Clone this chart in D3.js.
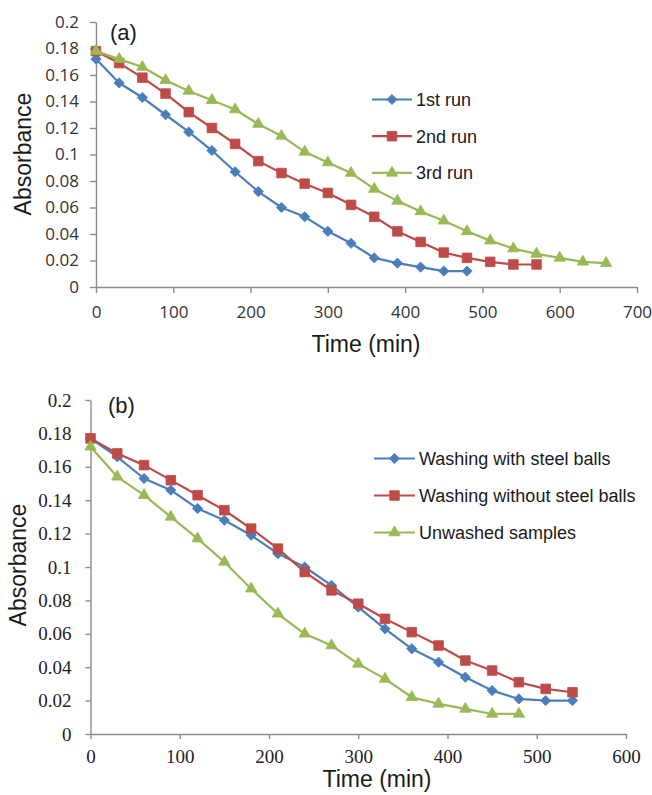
<!DOCTYPE html>
<html>
<head>
<meta charset="utf-8">
<script src="https://cdn.jsdelivr.net/npm/d3@7"></script>
<style>
  body { margin: 0; background: #fff; }
  svg { display: block; }
</style>
</head>
<body>
<svg id="chart" width="652" height="795"></svg>
<script>
// ---- Panel (a): repeated photocatalytic runs ----
const timeRun1 = [0, 30, 60, 90, 120, 150, 180, 210, 240, 270, 300, 330, 360, 390, 420, 450, 480];
const run1 = [0.172, 0.154, 0.143, 0.130, 0.117, 0.103, 0.087, 0.072, 0.060, 0.053, 0.042, 0.033, 0.022, 0.018, 0.015, 0.012, 0.012];

const timeRun2 = [0, 30, 60, 90, 120, 150, 180, 210, 240, 270, 300, 330, 360, 390, 420, 450, 480, 510, 540, 570];
const run2 = [0.178, 0.169, 0.158, 0.146, 0.132, 0.120, 0.108, 0.095, 0.086, 0.078, 0.071, 0.062, 0.053, 0.042, 0.034, 0.026, 0.022, 0.019, 0.017, 0.017];

const timeRun3 = [0, 30, 60, 90, 120, 150, 180, 210, 240, 270, 300, 330, 360, 390, 420, 450, 480, 510, 540, 570, 600, 630, 660];
const run3 = [0.178, 0.172, 0.166, 0.156, 0.148, 0.141, 0.134, 0.123, 0.114, 0.102, 0.094, 0.086, 0.074, 0.065, 0.057, 0.050, 0.042, 0.035, 0.029, 0.025, 0.022, 0.019, 0.018];

// ---- Panel (b): washing treatments ----
const timeWashed = [0, 30, 60, 90, 120, 150, 180, 210, 240, 270, 300, 330, 360, 390, 420, 450, 480, 510, 540];
const withSteel = [0.177, 0.166, 0.153, 0.146, 0.135, 0.128, 0.119, 0.108, 0.100, 0.089, 0.076, 0.063, 0.051, 0.043, 0.034, 0.026, 0.021, 0.020, 0.020];
const withoutSteel = [0.177, 0.168, 0.161, 0.152, 0.143, 0.134, 0.123, 0.111, 0.097, 0.086, 0.078, 0.069, 0.061, 0.053, 0.044, 0.038, 0.031, 0.027, 0.025];

const timeUnwashed = [0, 30, 60, 90, 120, 150, 180, 210, 240, 270, 300, 330, 360, 390, 420, 450, 480];
const unwashed = [0.172, 0.154, 0.143, 0.130, 0.117, 0.103, 0.087, 0.072, 0.060, 0.053, 0.042, 0.033, 0.022, 0.018, 0.015, 0.012, 0.012];

// ---- Axis ticks ----
const yTicks = [0, 0.02, 0.04, 0.06, 0.08, 0.1, 0.12, 0.14, 0.16, 0.18, 0.2];
const xTicksA = [0, 100, 200, 300, 400, 500, 600, 700];
const xTicksB = [0, 100, 200, 300, 400, 500, 600];

const seriesNamesA = ["1st run", "2nd run", "3rd run"];
const seriesNamesB = ["Washing with steel balls", "Washing without steel balls", "Unwashed samples"];

const BLUE = "#4a7ebb", RED = "#be4b48", GREEN = "#98b954";
const AXIS = "#8c8c8c";
const SANS = "'Liberation Sans', Arial, sans-serif";

const svg = d3.select("#chart");

const fmtTick = v => String(+v.toFixed(2));

// marker generators keyed by shape
const markerPath = {
  diamond: d3.symbol().type(d3.symbolSquare).size(52)(),
  square: d3.symbol().type(d3.symbolSquare).size(92)(),
  triangle: d3.symbol().type(d3.symbolTriangle).size(56)()
};

function drawMarker(g, shape, color, x, y) {
  g.append("path")
    .attr("d", markerPath[shape])
    .attr("transform", `translate(${x},${y})` + (shape === "diamond" ? " rotate(45)" : ""))
    .attr("fill", color)
    .attr("stroke", color)
    .attr("stroke-width", 0.8);
}

function drawPanel(cfg) {
  const g = svg.append("g");
  const x = d3.scaleLinear().domain(cfg.xDomain).range(cfg.xRange);
  const y = d3.scaleLinear().domain([0, 0.2]).range(cfg.yRange);

  // y axis
  const ya = g.append("g")
    .attr("transform", `translate(${cfg.xRange[0]},0)`)
    .call(d3.axisLeft(y).tickValues(yTicks).tickFormat(fmtTick)
      .tickSize(cfg.tickLen).tickSizeOuter(0).tickPadding(cfg.yPad));
  // x axis
  const xa = g.append("g")
    .attr("transform", `translate(0,${cfg.yRange[0]})`)
    .call(d3.axisBottom(x).tickValues(cfg.xTicks).tickFormat(d3.format("d"))
      .tickSize(cfg.tickLen).tickSizeOuter(0).tickPadding(cfg.xPad));

  [ya, xa].forEach(a => {
    a.select(".domain").attr("stroke", AXIS).attr("stroke-width", 1.4);
    a.selectAll(".tick line").attr("stroke", AXIS).attr("stroke-width", 1.4);
    a.selectAll(".tick text")
      .attr("fill", cfg.tickColor)
      .style("font-family", cfg.tickFont)
      .style("font-size", cfg.tickSize + "px");
  });

  // series lines and markers
  const line = d3.line().x(d => x(d[0])).y(d => y(d[1]));
  cfg.series.forEach(s => {
    const pts = s.t.map((t, i) => [t, s.v[i]]);
    g.append("path")
      .datum(pts)
      .attr("d", line)
      .attr("fill", "none")
      .attr("stroke", s.color)
      .attr("stroke-width", 2.2)
      .attr("stroke-linejoin", "round");
    const mg = g.append("g");
    pts.forEach(p => drawMarker(mg, s.shape, s.color, x(p[0]), y(p[1])));
  });

  // legend
  const lg = g.append("g");
  cfg.series.forEach((s, i) => {
    const ly = cfg.legend.y + i * cfg.legend.dy;
    lg.append("line")
      .attr("x1", cfg.legend.x1).attr("x2", cfg.legend.x2)
      .attr("y1", ly).attr("y2", ly)
      .attr("stroke", s.color).attr("stroke-width", 2.2);
    drawMarker(lg, s.shape, s.color, (cfg.legend.x1 + cfg.legend.x2) / 2, ly);
    lg.append("text")
      .attr("x", cfg.legend.x2 + 4).attr("y", ly)
      .attr("dy", "0.35em")
      .attr("fill", "#1a1a1a")
      .style("font-family", SANS)
      .style("font-size", "18px")
      .text(cfg.names[i]);
  });

  // panel letter
  g.append("text")
    .attr("x", cfg.letter.x).attr("y", cfg.letter.y)
    .attr("fill", "#1a1a1a")
    .style("font-family", SANS).style("font-size", "22px")
    .text(cfg.letter.text);

  // axis titles
  g.append("text")
    .attr("x", cfg.xTitle.x).attr("y", cfg.xTitle.y)
    .attr("text-anchor", "middle")
    .attr("fill", "#1a1a1a")
    .style("font-family", SANS).style("font-size", "23px")
    .text("Time (min)");
  g.append("text")
    .attr("transform", `translate(${cfg.yTitle.x},${cfg.yTitle.y}) rotate(-90)`)
    .attr("text-anchor", "middle")
    .attr("fill", "#1a1a1a")
    .style("font-family", SANS).style("font-size", "23px")
    .text("Absorbance");
}

drawPanel({
  xDomain: [0, 700], xRange: [96, 637], yRange: [287, 22],
  xTicks: xTicksA, tickLen: 6, yPad: 11, xPad: 13,
  tickFont: "'Open Sans', sans-serif", tickSize: 17, tickColor: "#333",
  series: [
    { t: timeRun1, v: run1, color: BLUE, shape: "diamond" },
    { t: timeRun2, v: run2, color: RED, shape: "square" },
    { t: timeRun3, v: run3, color: GREEN, shape: "triangle" }
  ],
  names: seriesNamesA,
  legend: { x1: 372, x2: 412, y: 99.5, dy: 36.7 },
  letter: { x: 110, y: 40, text: "(a)" },
  xTitle: { x: 366, y: 352 },
  yTitle: { x: 31, y: 154 }
});

drawPanel({
  xDomain: [0, 600], xRange: [90.5, 626], yRange: [734, 400],
  xTicks: xTicksB, tickLen: 5, yPad: 14, xPad: 11,
  tickFont: "'Liberation Serif', 'Times New Roman', serif", tickSize: 19, tickColor: "#222",
  series: [
    { t: timeWashed, v: withSteel, color: BLUE, shape: "diamond" },
    { t: timeWashed, v: withoutSteel, color: RED, shape: "square" },
    { t: timeUnwashed, v: unwashed, color: GREEN, shape: "triangle" }
  ],
  names: seriesNamesB,
  legend: { x1: 374, x2: 415, y: 458.5, dy: 37 },
  letter: { x: 108, y: 413, text: "(b)" },
  xTitle: { x: 377, y: 787 },
  yTitle: { x: 26, y: 565 }
});
</script>
</body>
</html>
